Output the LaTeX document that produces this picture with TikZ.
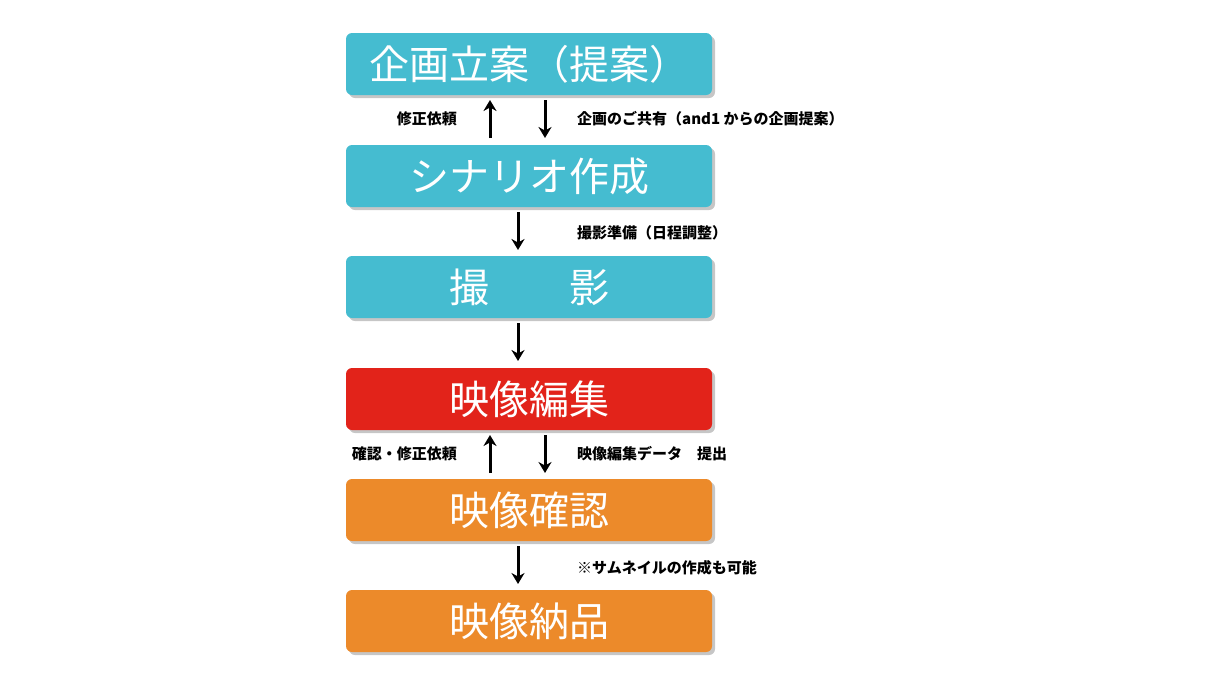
\documentclass[tikz,border=0pt]{standalone}
\usepackage{fontspec}
\newfontfamily\cjk{Noto Sans CJK JP}
\usetikzlibrary{shadows,arrows.meta}
\definecolor{cy}{HTML}{45BCD0}
\definecolor{rd}{HTML}{E2231A}
\definecolor{og}{HTML}{EC8A2A}
\begin{document}
\begin{tikzpicture}[x=1pt,y=-1pt,
 box/.style={rounded corners=6pt,minimum width=366pt,minimum height=62pt,inner sep=0pt,text=white,font=\cjk\fontsize{40}{40}\selectfont,drop shadow={shadow xshift=3pt,shadow yshift=-3pt,opacity=0.45}},
 lbl/.style={font=\cjk\bfseries\fontsize{15}{15}\selectfont,inner sep=0pt},
 ar/.style={line width=3pt,-{Stealth[length=11pt,width=13pt]}}]
\useasboundingbox (0,0) rectangle (1220,686);
\node[box,fill=cy] (b1) at (529,64) {企画立案（提案）};
\node[box,fill=cy] (b2) at (529,176) {シナリオ作成};
\node[box,fill=cy] (b3) at (529,287) {撮　　影};
\node[box,fill=rd] (b4) at (529,399) {映像編集};
\node[box,fill=og] (b5) at (529,510) {映像確認};
\node[box,fill=og] (b6) at (529,621) {映像納品};
\coordinate (u1a) at (490,138); \coordinate (u1b) at (490,100);
\coordinate (d1a) at (545,100); \coordinate (d1b) at (545,138);
\draw[ar] (u1a) -- (u1b); \draw[ar] (d1a) -- (d1b);
\coordinate (d2a) at (518,212); \coordinate (d2b) at (518,250);
\draw[ar] (d2a) -- (d2b);
\coordinate (d3a) at (518,323); \coordinate (d3b) at (518,361);
\draw[ar] (d3a) -- (d3b);
\coordinate (u4a) at (490,473); \coordinate (u4b) at (490,435);
\coordinate (d4a) at (545,435); \coordinate (d4b) at (545,473);
\draw[ar] (u4a) -- (u4b); \draw[ar] (d4a) -- (d4b);
\coordinate (d5a) at (518,546); \coordinate (d5b) at (518,584);
\draw[ar] (d5a) -- (d5b);
\node[lbl,anchor=east] (l1) at (457,119) {修正依頼};
\node[lbl,anchor=west] (l2) at (577,119) {企画のご共有（and1 からの企画提案）};
\node[lbl,anchor=west] (l3) at (577,233) {撮影準備（日程調整）};
\node[lbl,anchor=east] (l4) at (457,454) {確認・修正依頼};
\node[lbl,anchor=west] (l5) at (577,454) {映像編集データ　提出};
\node[lbl,anchor=west] (l6) at (577,568) {※サムネイルの作成も可能};
\end{tikzpicture}
\end{document}
